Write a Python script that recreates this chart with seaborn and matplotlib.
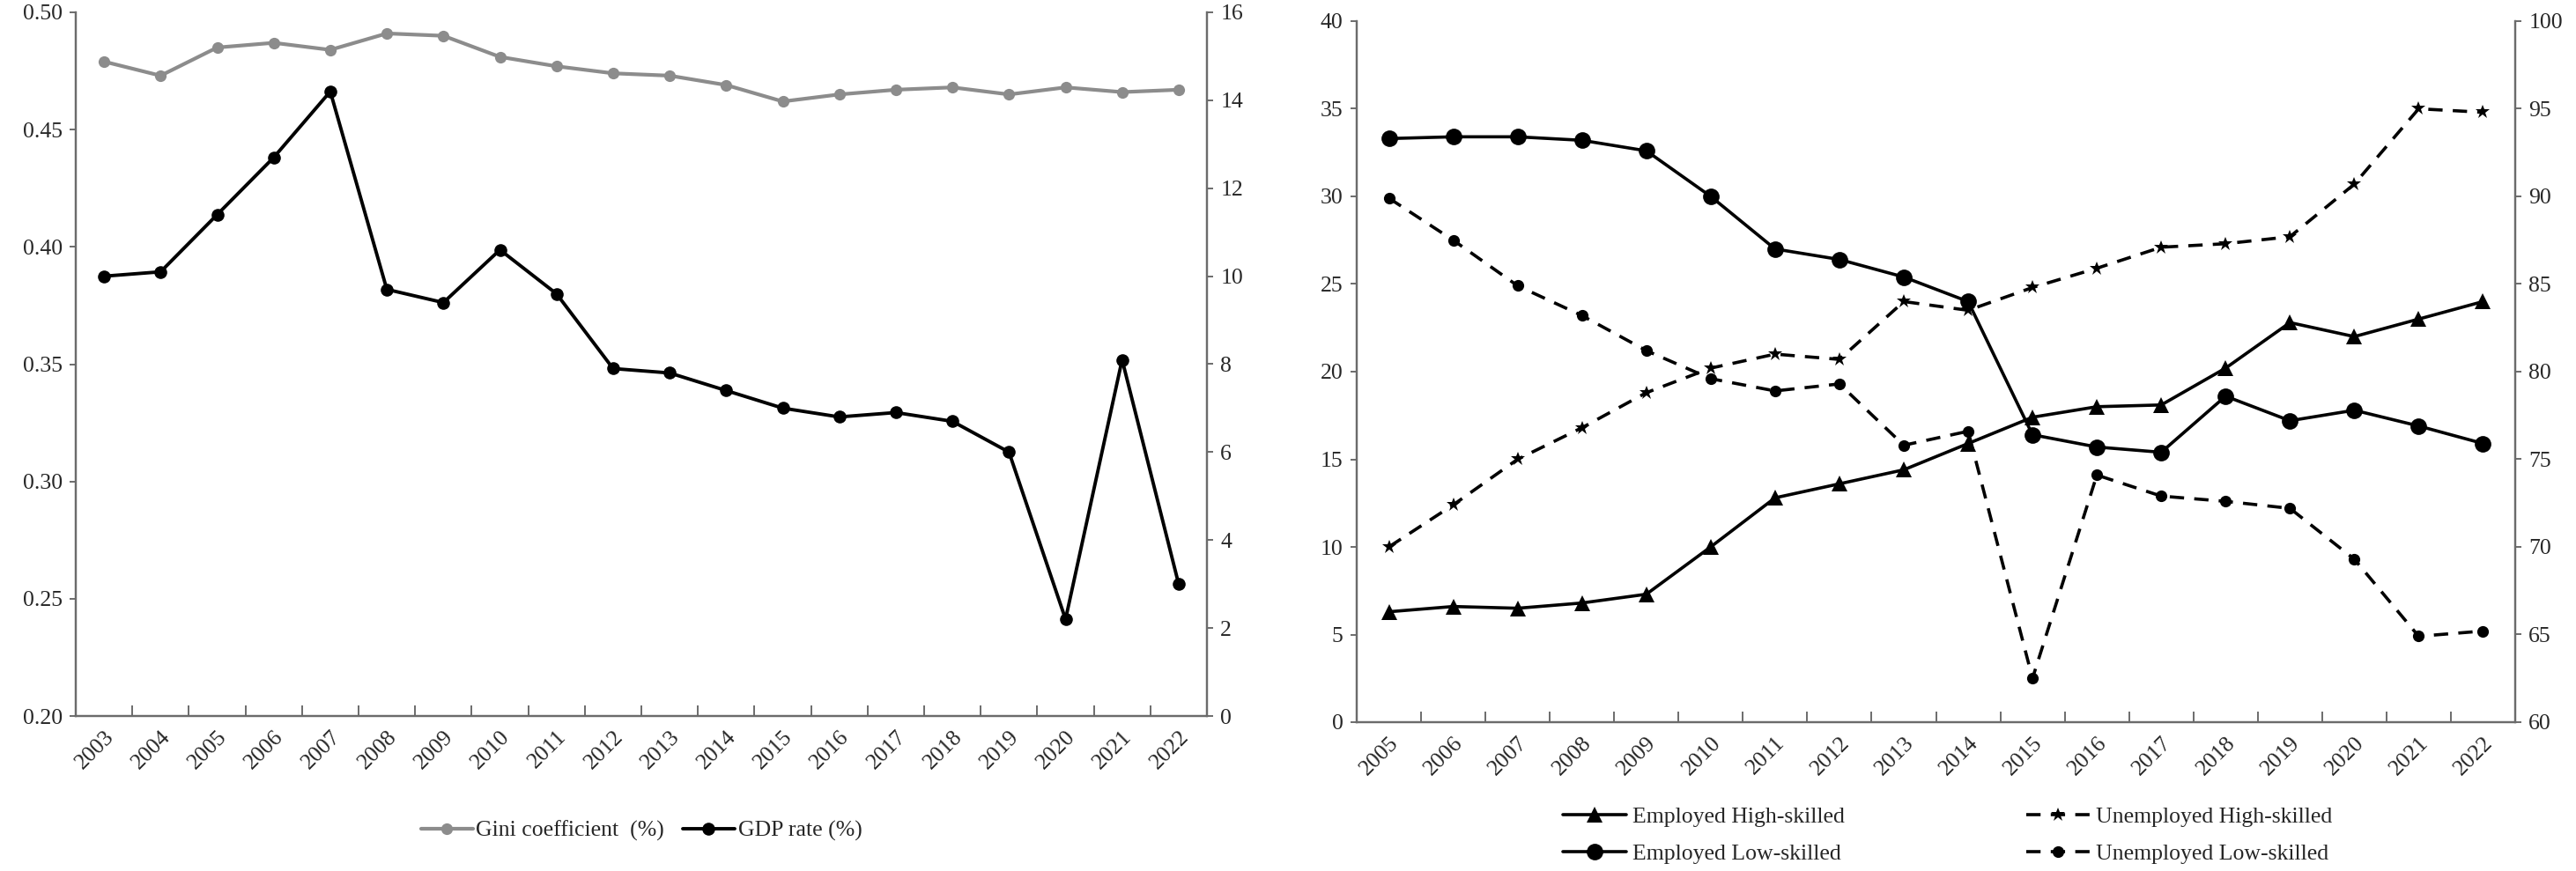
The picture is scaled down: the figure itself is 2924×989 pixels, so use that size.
import matplotlib
matplotlib.use("Agg")
import matplotlib.pyplot as plt
import seaborn as sns
import pandas as pd
import numpy as np
from matplotlib.ticker import FixedLocator, FixedFormatter

# ---------------- data ----------------
years_left = list(range(2003, 2023))
gini = [0.479, 0.473, 0.485, 0.487, 0.484, 0.491, 0.490, 0.481, 0.477, 0.474,
        0.473, 0.469, 0.462, 0.465, 0.467, 0.468, 0.465, 0.468, 0.466, 0.467]
gdp_rate = [10.0, 10.1, 11.4, 12.7, 14.2, 9.7, 9.4, 10.6, 9.6, 7.9,
            7.8, 7.4, 7.0, 6.8, 6.9, 6.7, 6.0, 2.2, 8.1, 3.0]

years_right = list(range(2005, 2023))
emp_high = [6.3, 6.6, 6.5, 6.8, 7.3, 10.0, 12.8, 13.6, 14.4, 15.9,
            17.4, 18.0, 18.1, 20.2, 22.8, 22.0, 23.0, 24.0]
emp_low = [33.3, 33.4, 33.4, 33.2, 32.6, 30.0, 27.0, 26.4, 25.4, 24.0,
           16.4, 15.7, 15.4, 18.6, 17.2, 17.8, 16.9, 15.9]
unemp_high = [70.0, 72.4, 75.0, 76.8, 78.8, 80.2, 81.0, 80.7, 84.0, 83.5,
              84.8, 85.9, 87.1, 87.3, 87.7, 90.7, 95.0, 94.8]
unemp_low = [89.9, 87.5, 84.9, 83.2, 81.2, 79.6, 78.9, 79.3, 75.8, 76.6,
             62.5, 74.1, 72.9, 72.6, 72.2, 69.3, 64.9, 65.2]

left_yticks = [0.20, 0.25, 0.30, 0.35, 0.40, 0.45, 0.50]
left_y2ticks = [0, 2, 4, 6, 8, 10, 12, 14, 16]
right_yticks = [0, 5, 10, 15, 20, 25, 30, 35, 40]
right_y2ticks = [60, 65, 70, 75, 80, 85, 90, 95, 100]

# ---------------- style ----------------
sns.set_theme(style="white")
plt.rcParams["font.family"] = ["Liberation Serif", "DejaVu Serif"]
FS = 18.5
SPINE = "#6b6b6b"

W, H = 2924, 989
fig = plt.figure(figsize=(W / 100, H / 100), dpi=100)

def frac(x0, x1, ytop, ybot):
    return [x0 / W, 1 - ybot / H, (x1 - x0) / W, (ybot - ytop) / H]

def style_axes(ax, ax2, years, yt, y2t, yfmt, y2fmt):
    for a in (ax, ax2):
        for s in a.spines.values():
            s.set_color(SPINE)
            s.set_linewidth(1.6)
        a.spines["top"].set_visible(False)
        a.grid(False)
    ax.spines["right"].set_visible(True)
    ax.set_xlim(years[0] - 0.5, years[-1] + 0.5)
    ax.xaxis.set_major_locator(FixedLocator(years))
    ax.xaxis.set_major_formatter(FixedFormatter([str(y) for y in years]))
    ax.xaxis.set_minor_locator(FixedLocator([y + 0.5 for y in years[:-1]]))
    ax.tick_params(axis="x", which="major", length=0, labelsize=FS, pad=9)
    ax.tick_params(axis="x", which="minor", direction="in", length=9,
                   width=1.4, color=SPINE, bottom=True)
    for lab in ax.get_xticklabels():
        lab.set_rotation(45)
        lab.set_ha("right")
        lab.set_va("top")
        lab.set_rotation_mode("anchor")
    ax.set_yticks(yt)
    ax.set_yticklabels([yfmt(v) for v in yt])
    ax.set_ylim(yt[0], yt[-1])
    ax.tick_params(axis="y", which="major", direction="out", length=5,
                   width=1.4, color=SPINE, labelsize=FS, left=True, pad=6)
    ax2.set_yticks(y2t)
    ax2.set_yticklabels([y2fmt(v) for v in y2t])
    ax2.set_ylim(y2t[0], y2t[-1])
    ax2.tick_params(axis="y", which="major", direction="out", length=5,
                    width=1.4, color=SPINE, labelsize=FS, right=True, pad=6)
    ax.set_xlabel("")
    ax.set_ylabel("")
    ax2.set_ylabel("")

# ---------------- left panel ----------------
axL = fig.add_axes(frac(86, 1370, 14, 813))
axL2 = axL.twinx()
dfL = pd.DataFrame({"year": years_left, "gini": gini, "gdp": gdp_rate})

sns.lineplot(data=dfL, x="year", y="gini", ax=axL, color="#8c8c8c",
             linewidth=3.0, marker="o", markersize=9.5, markeredgewidth=0,
             legend=False)
sns.lineplot(data=dfL, x="year", y="gdp", ax=axL2, color="black",
             linewidth=2.8, marker="o", markersize=10.5, markeredgewidth=0,
             legend=False)
style_axes(axL, axL2, years_left, left_yticks, left_y2ticks,
           lambda v: f"{v:.2f}", lambda v: f"{v:d}")
hL = axL.get_lines()[:1] + axL2.get_lines()[:1]
axL.legend(hL, ["Gini coefficient  (%)", "GDP rate (%)"], loc="center",
           bbox_to_anchor=(0.5, -0.163), ncol=2, frameon=False, fontsize=FS,
           handlelength=2.3, handletextpad=0.15, columnspacing=0.8,
           numpoints=1)

# ---------------- right panel ----------------
axR = fig.add_axes(frac(1540, 2855, 24, 820))
axR2 = axR.twinx()
dfR = pd.DataFrame({"year": years_right, "emp_high": emp_high,
                    "emp_low": emp_low, "unemp_high": unemp_high,
                    "unemp_low": unemp_low})

sns.lineplot(data=dfR, x="year", y="emp_high", ax=axR, color="black",
             linewidth=2.6, marker="^", markersize=13, markeredgewidth=0,
             legend=False)
sns.lineplot(data=dfR, x="year", y="emp_low", ax=axR, color="black",
             linewidth=2.6, marker="o", markersize=13.5, markeredgewidth=0,
             legend=False)
sns.lineplot(data=dfR, x="year", y="unemp_high", ax=axR2, color="black",
             linewidth=2.6, marker="*", markersize=12, markeredgewidth=0,
             legend=False)
sns.lineplot(data=dfR, x="year", y="unemp_low", ax=axR2, color="black",
             linewidth=2.6, marker="o", markersize=9.5, markeredgewidth=0,
             legend=False)
for ln in axR2.get_lines():
    ln.set_linestyle((0, (4.5, 3.2)))
style_axes(axR, axR2, years_right, right_yticks, right_y2ticks,
           lambda v: f"{v:d}", lambda v: f"{v:d}")
hR = [axR.get_lines()[0], axR.get_lines()[1],
      axR2.get_lines()[0], axR2.get_lines()[1]]
labR = ["Employed High-skilled", "Employed Low-skilled",
        "Unemployed High-skilled", "Unemployed Low-skilled"]
axR.legend(hR, labR, loc="center", bbox_to_anchor=(0.51, -0.161), ncol=2,
           frameon=False, fontsize=FS, handlelength=2.8, handletextpad=0.3,
           columnspacing=8.0, labelspacing=0.75, numpoints=1)

fig.savefig("out.png", dpi=100)
